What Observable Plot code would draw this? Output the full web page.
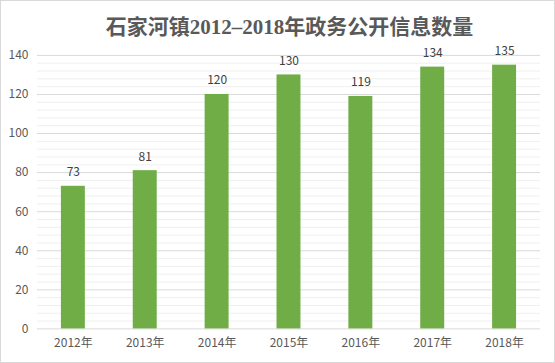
<!DOCTYPE html>
<html><head><meta charset="utf-8">
<script src="https://cdn.jsdelivr.net/npm/d3@7"></script>
<script src="https://cdn.jsdelivr.net/npm/@observablehq/plot@0.6"></script>
<style>
html,body{margin:0;padding:0;background:#fff;}
#wrap{position:relative;width:555px;height:363px;box-sizing:border-box;border:1px solid #d9d9d9;background:#fff;overflow:hidden;}
#title{position:absolute;left:0;width:577px;top:9px;text-align:center;font-family:"Liberation Serif","Noto Sans CJK SC",serif;font-weight:bold;font-size:21px;color:#595959;white-space:nowrap;}
#chart{position:absolute;left:-1px;top:-1px;}
</style></head>
<body>
<div id="wrap"><div id="title">石家河镇2012–2018年政务公开信息数量</div><div id="chart"></div></div>
<script>
const years = ["2012年","2013年","2014年","2015年","2016年","2017年","2018年"];
const counts = [73, 81, 120, 130, 119, 134, 135];
const majorTicks = [0, 20, 40, 60, 80, 100, 120, 140];
const minorTicks = d3.range(0, 141, 4).filter(v => v % 20 !== 0);

const data = years.map((y, i) => ({year: y, value: counts[i]}));

const chart = Plot.plot({
  width: 555,
  height: 363,
  marginTop: 55,
  marginBottom: 34,
  marginLeft: 37,
  marginRight: 14,
  style: {fontFamily: "'Noto Sans CJK SC', sans-serif", fontSize: "12px", color: "#595959", background: "transparent"},
  x: {domain: years, paddingInner: 0.667, paddingOuter: 0.333, label: null},
  y: {domain: [0, 140], label: null},
  marks: [
    Plot.ruleY(minorTicks, {stroke: "#efefef", strokeWidth: 1}),
    Plot.ruleY(majorTicks, {stroke: "#d9d9d9", strokeWidth: 1}),
    Plot.barY(data, {x: "year", y: "value", fill: "#70ad47"}),
    Plot.text(data, {x: "year", y: "value", text: d => String(d.value), dy: -14, fill: "#404040", fontSize: 12}),
    Plot.axisY(majorTicks, {tickSize: 0, tickPadding: 9, fill: "#595959", fontSize: 12}),
    Plot.axisX({tickSize: 0, tickPadding: 10, fill: "#595959", fontSize: 12})
  ]
});
document.getElementById("chart").appendChild(chart);
</script>
</body></html>
